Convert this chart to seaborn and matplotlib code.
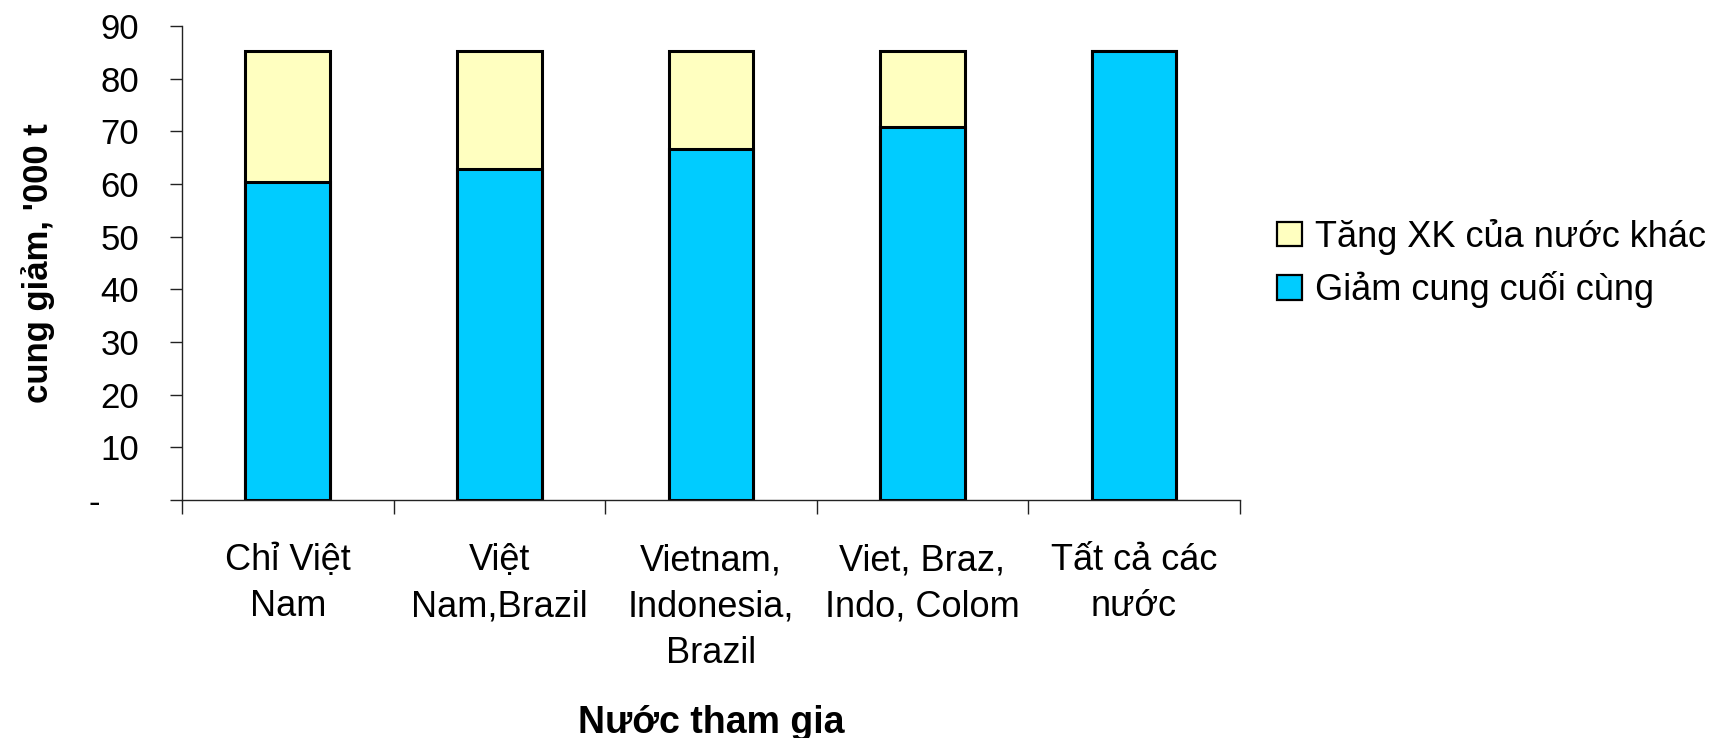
import matplotlib
matplotlib.use("Agg")
import matplotlib.pyplot as plt
import matplotlib.patches as mpatches
from matplotlib.ticker import FixedLocator
import numpy as np
import pandas as pd
import seaborn as sns

# data ('000 t)
nuoc = ["Chỉ Việt\nNam", "Việt\nNam,Brazil", "Vietnam,\nIndonesia,\nBrazil",
        "Viet, Braz,\nIndo, Colom", "Tất cả các\nnước"]
giam_cung = [60.4, 62.9, 66.7, 70.8, 85.2]
tang_xk = [24.8, 22.3, 18.5, 14.4, 0.0]
y_ticks = [0, 10, 20, 30, 40, 50, 60, 70, 80, 90]
y_labels = ["-    ", "10", "20", "30", "40", "50", "60", "70", "80", "90"]

sns.set_style("white")
plt.rcParams["font.family"] = ["Liberation Sans", "DejaVu Sans"]
plt.rcParams["text.color"] = "black"
plt.rcParams["axes.labelcolor"] = "black"
plt.rcParams["xtick.color"] = "black"
plt.rcParams["ytick.color"] = "black"

df = pd.DataFrame({"nuoc": nuoc, "giam": giam_cung, "tang": tang_xk})
df["tong"] = df["giam"] + df["tang"]

mau_vang = "#FFFFC0"
mau_xanh = "#00CCFF"

fig = plt.figure(figsize=(17.17, 7.38), dpi=100)
ax = fig.add_axes([0.106, 0.3225, 0.616, 0.6423])

# stacked bars: total (yellow) underneath, final supply drop (blue) on top
sns.barplot(data=df, x="nuoc", y="tong", color=mau_vang, width=0.4,
            edgecolor="black", linewidth=2.2, saturation=1, ax=ax)
sns.barplot(data=df, x="nuoc", y="giam", color=mau_xanh, width=0.4,
            edgecolor="black", linewidth=2.2, saturation=1, ax=ax)

ax.set_xlim(-0.5, 4.5)
ax.set_ylim(0, 90)
ax.set_yticks(y_ticks)
ax.set_yticklabels(y_labels)

for s in ["top", "right"]:
    ax.spines[s].set_visible(False)
for s in ["left", "bottom"]:
    ax.spines[s].set_color("#222222")
    ax.spines[s].set_linewidth(1.0)

ax.tick_params(axis="y", left=True, length=9, width=1.0, color="#222222",
               pad=22, labelsize=25, labelcolor="black")
ax.tick_params(axis="x", which="major", bottom=True, length=0, pad=31,
               labelsize=26, labelcolor="black")
ax.xaxis.set_minor_locator(FixedLocator(np.arange(-0.5, 5, 1)))
ax.tick_params(axis="x", which="minor", bottom=True, length=10, width=1.0,
               color="#222222", direction="out")
for lab in ax.get_xticklabels():
    lab.set_linespacing(1.42)

ax.set_xlabel("Nước tham gia", fontsize=27, fontweight="bold", color="black")
ax.xaxis.set_label_coords(0.5, -0.47)
ax.xaxis.label.set_va("center")
ax.set_ylabel("cung giảm, '000 t", fontsize=25, fontweight="bold", color="black")
ax.yaxis.set_label_coords(-0.136, 0.5)
ax.yaxis.label.set_va("center")

handles = [
    mpatches.Patch(facecolor=mau_vang, edgecolor="black", linewidth=1.6,
                   label="Tăng XK của nước khác"),
    mpatches.Patch(facecolor=mau_xanh, edgecolor="black", linewidth=1.6,
                   label="Giảm cung cuối cùng"),
]
fig.legend(handles=handles, loc="center left", bbox_to_anchor=(0.744, 0.643),
           frameon=False, fontsize=26, handlelength=0.67, handleheight=0.67,
           handletextpad=0.36, labelspacing=0.45, borderaxespad=0,
           borderpad=0, labelcolor="black")

fig.savefig("out.png", dpi=100)
